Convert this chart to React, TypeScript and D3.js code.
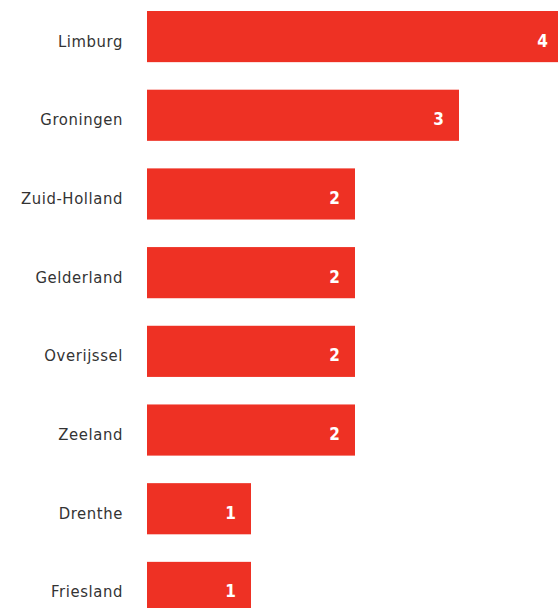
import React from "react";
import * as d3 from "d3";

const provinces = ["Limburg", "Groningen", "Zuid-Holland", "Gelderland", "Overijssel", "Zeeland", "Drenthe", "Friesland"];
const counts = [4, 3, 2, 2, 2, 2, 1, 1];

export default function App() {
  const W = 570;
  const H = 620;
  const x = d3.scaleLinear().domain([0, 4]).range([147, 563]);
  const y = d3.scaleBand<string>().domain(provinces).range([11, 613]).paddingInner(0.35).paddingOuter(0);
  const font = "'DejaVu Sans Condensed', 'DejaVu Sans', sans-serif";
  return (
    <svg width={W} height={H} style={{ position: "absolute", left: 0, top: 0 }}>
      {provinces.map((p, i) => {
        const yy = y(p)!;
        const cy = yy + y.bandwidth() / 2;
        return (
          <g key={p}>
            <rect x={x(0)} y={yy} width={x(counts[i]) - x(0)} height={y.bandwidth()} fill="#EE3124" />
            <text x={123} y={cy + 10} textAnchor="end" fontFamily={font} fontStretch="condensed" fontSize={16.5} fill="#333" letterSpacing={0.6}>
              {p}
            </text>
            <text x={x(counts[i]) - 15} y={cy + 10} textAnchor="end" fontFamily={font} fontStretch="condensed" fontWeight="bold" fontSize={17} fill="#fff">
              {counts[i]}
            </text>
          </g>
        );
      })}
    </svg>
  );
}
